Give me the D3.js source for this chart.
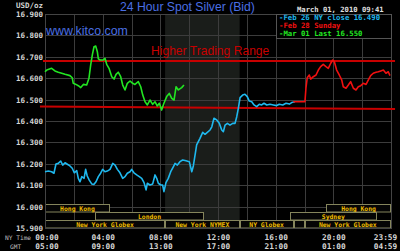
<!DOCTYPE html>
<html>
<head>
<meta charset="utf-8">
<script src="https://cdn.jsdelivr.net/npm/d3@7"></script>
<style>
body { margin: 0; background: #000; }
svg { display: block; }
</style>
</head>
<body>
<div id="container"></div>
<script>
var WIDTH = 400,
	HEIGHT = 251,
	LEFT = 45,
	RIGHT = 391,
	TOP = 14,
	BOTTOM = 228;

var MONO = '"DejaVu Sans Mono", monospace';
var SANS = '"Liberation Sans", Arial, sans-serif';

// price ticks and time ticks
var yTicks = [15.9, 16.0, 16.1, 16.2, 16.3, 16.4, 16.5, 16.6, 16.7, 16.8, 16.9];
var gridHours = [0, 2, 4, 6, 8, 10, 12, 14, 16, 18, 20, 22, 24];
var xTicks = [0, 4, 8, 12, 16, 20, 24];
var nyLabels = ['00:00', '04:00', '08:00', '12:00', '16:00', '20:00', '23:59'];
var gmtLabels = ['05:00', '09:00', '13:00', '17:00', '21:00', '01:00', '04:59'];

// series: [NY hour, price]
var feb26 = [[0.00,16.163],[0.23,16.166],[0.46,16.163],[0.62,16.156],[0.76,16.199],[0.92,16.202],[1.09,16.213],
	[1.23,16.194],[1.39,16.205],[1.55,16.198],[1.73,16.190],[1.89,16.179],[2.03,16.158],[2.20,16.168],[2.31,16.132],
	[2.43,16.116],[2.55,16.140],[2.71,16.132],[2.82,16.174],[2.93,16.143],[3.07,16.124],[3.24,16.106],[3.40,16.104],
	[3.54,16.116],[3.70,16.140],[3.86,16.156],[4.00,16.174],[4.16,16.163],[4.32,16.166],[4.51,16.174],[4.70,16.202],
	[4.86,16.194],[5.02,16.174],[5.20,16.158],[5.39,16.132],[5.55,16.140],[5.71,16.156],[5.90,16.163],[6.01,16.174],
	[6.17,16.158],[6.36,16.148],[6.54,16.140],[6.71,16.132],[6.87,16.112],[7.01,16.078],[7.10,16.109],[7.28,16.101],
	[7.47,16.106],[7.63,16.148],[7.75,16.132],[7.86,16.109],[8.03,16.101],[8.16,16.101],[8.25,16.070],[8.39,16.112],
	[8.55,16.132],[8.72,16.163],[8.90,16.186],[9.02,16.202],[9.18,16.194],[9.36,16.210],[9.55,16.218],[9.78,16.214],
	[10.01,16.210],[10.18,16.163],[10.29,16.190],[10.52,16.288],[10.75,16.319],[10.94,16.347],[11.10,16.338],
	[11.26,16.347],[11.45,16.358],[11.57,16.373],[11.72,16.413],[11.91,16.405],[12.09,16.389],[12.26,16.358],
	[12.37,16.350],[12.49,16.381],[12.65,16.389],[12.83,16.381],[13.02,16.389],[13.18,16.389],[13.30,16.420],
	[13.41,16.459],[13.53,16.509],[13.71,16.521],[13.87,16.525],[14.03,16.514],[14.17,16.493],[14.34,16.490],
	[14.50,16.475],[14.68,16.467],[14.86,16.478],[15.03,16.475],[15.19,16.483],[15.38,16.475],[15.61,16.478],
	[15.84,16.475],[16.07,16.472],[16.25,16.478],[16.49,16.475],[16.72,16.483],[16.95,16.479],[17.11,16.486],
	[17.34,16.490]];

var feb28 = [[17.22,16.490],[18.03,16.490],[18.10,16.553],[18.19,16.602],[18.33,16.615],[18.43,16.596],[18.61,16.607],
	[18.80,16.615],[18.96,16.638],[19.12,16.654],[19.30,16.665],[19.49,16.654],[19.65,16.646],[19.82,16.670],
	[19.96,16.685],[20.07,16.677],[20.23,16.638],[20.41,16.615],[20.58,16.592],[20.69,16.560],[20.88,16.553],
	[21.04,16.568],[21.20,16.584],[21.39,16.553],[21.57,16.545],[21.73,16.560],[21.90,16.565],[22.08,16.576],
	[22.27,16.571],[22.43,16.592],[22.59,16.612],[22.77,16.623],[22.96,16.628],[23.12,16.630],[23.29,16.634],
	[23.47,16.638],[23.65,16.623],[23.81,16.630],[23.93,16.612]];

var mar01 = [[0.00,16.630],[0.12,16.638],[0.46,16.646],[0.69,16.634],[0.92,16.628],[1.16,16.623],[1.39,16.618],
	[1.73,16.612],[1.89,16.602],[1.96,16.576],[2.15,16.571],[2.31,16.565],[2.48,16.556],[2.66,16.571],[2.89,16.568],
	[3.05,16.600],[3.17,16.662],[3.28,16.708],[3.40,16.747],[3.52,16.750],[3.63,16.724],[3.70,16.690],[3.82,16.685],
	[4.04,16.685],[4.16,16.693],[4.28,16.665],[4.44,16.646],[4.63,16.607],[4.79,16.596],[4.93,16.618],[5.08,16.628],
	[5.25,16.607],[5.39,16.568],[5.55,16.545],[5.71,16.576],[5.90,16.587],[6.08,16.576],[6.24,16.571],[6.47,16.584],
	[6.64,16.560],[6.78,16.521],[6.94,16.490],[7.10,16.475],[7.28,16.498],[7.47,16.478],[7.63,16.490],[7.79,16.470],
	[7.93,16.483],[8.09,16.451],[8.25,16.483],[8.44,16.514],[8.62,16.529],[8.79,16.506],[8.95,16.498],[9.09,16.560],
	[9.25,16.545],[9.48,16.556],[9.64,16.568]];

// trading range lines
var upperRange = [[-0.14, 16.680], [24.28, 16.680]];
var lowerRange = [[-0.35, 16.468], [24.28, 16.456]];

var legendLabels = ['-Feb 26 NY close 16.490', '-Feb 28 Sunday', '-Mar 01 Last 16.550'];
var seriesColors = ['#1fb8ee', '#f01010', '#22e622'];

// sessions: name, row, start hour, end hour
var sessions = [
	['Hong Kong', 0, 0, 4.5], ['Hong Kong', 0, 19.5, 24],
	['London', 1, 3.5, 11], ['Sydney', 1, 17, 23],
	['New York Globex', 2, 0, 8.33], ['New York NYMEX', 2, 8.33, 13.5], ['NY Globex', 2, 13.5, 17.25],
	['', 2, 17.25, 18], ['New York Globex', 2, 18, 24]
];
var nymexHours = [8.33, 13.5];

var xScale = d3.scaleLinear().domain([0, 24]).range([LEFT, RIGHT]);
var yScale = d3.scaleLinear().domain([15.9, 16.9]).range([BOTTOM, TOP]);

var translate = function (x, y) {
	return "translate(" + x + "," + y + ")";
};

function line() {
	return d3.line()
		.x(function (d) { return xScale(d[0]); })
		.y(function (d) { return yScale(d[1]); });
}

function drawChart() {
	var svg = d3.select('#container').append('svg')
		.attr('width', WIDTH)
		.attr('height', HEIGHT);

	svg.append('rect').attr('width', WIDTH).attr('height', HEIGHT).attr('fill', '#000');

	// NYMEX shading
	svg.append('rect')
		.attr('x', xScale(nymexHours[0])).attr('y', TOP)
		.attr('width', xScale(nymexHours[1]) - xScale(nymexHours[0]))
		.attr('height', BOTTOM - TOP)
		.attr('fill', '#1a1d1a');

	// grid
	svg.append('g').selectAll('line').data(yTicks).enter().append('line')
		.attr('x1', LEFT).attr('x2', RIGHT)
		.attr('y1', function (d) { return Math.round(yScale(d)) + 0.5; })
		.attr('y2', function (d) { return Math.round(yScale(d)) + 0.5; })
		.attr('stroke', '#3c3c3c');
	svg.append('g').selectAll('line').data(gridHours).enter().append('line')
		.attr('y1', TOP).attr('y2', BOTTOM)
		.attr('x1', function (d) { return Math.round(xScale(d)) + 0.5; })
		.attr('x2', function (d) { return Math.round(xScale(d)) + 0.5; })
		.attr('stroke', '#3c3c3c');

	// y labels
	var yAxis = svg.append('g')
		.attr('transform', translate(43, 0))
		.call(d3.axisLeft(yScale).tickValues(yTicks).tickFormat(d3.format('.3f')).tickSize(0).tickPadding(0));
	yAxis.select('.domain').remove();
	yAxis.selectAll('text')
		.attr('fill', '#d6d6d6')
		.style('font-family', MONO).style('font-size', '7.5px').style('font-weight', 'bold');

	// time labels
	[[nyLabels, 239.5], [gmtLabels, 248.5]].forEach(function (row) {
		var labels = row[0];
		var g = svg.append('g')
			.attr('transform', translate(0, row[1]))
			.call(d3.axisBottom(xScale).tickValues(xTicks)
				.tickFormat(function (d, i) { return labels[i]; }).tickSize(0).tickPadding(0));
		g.select('.domain').remove();
		g.selectAll('text')
			.attr('y', 0).attr('dy', 0)
			.attr('dx', function (d) { return d === 24 ? -6 : (d === 0 ? 1.5 : 0); })
			.attr('fill', '#d6d6d6')
			.style('font-family', MONO).style('font-size', '7.8px').style('font-weight', 'bold');
	});
	svg.append('text').attr('x', 5).attr('y', 239.5).text('NY Time')
		.attr('fill', '#bdbdbd').style('font-family', MONO).style('font-size', '6.2px');
	svg.append('text').attr('x', 10).attr('y', 248.5).text('GMT')
		.attr('fill', '#bdbdbd').style('font-family', MONO).style('font-size', '6.2px');

	// session bars
	var rowTop = [204, 212, 220];
	var sg = svg.append('g').selectAll('g').data(sessions).enter().append('g');
	sg.append('rect')
		.attr('x', function (d) { return Math.round(xScale(d[2])) + 0.5; })
		.attr('y', function (d) { return rowTop[d[1]] + 0.5; })
		.attr('width', function (d) { return Math.round(xScale(d[3])) - Math.round(xScale(d[2])) - 1; })
		.attr('height', 7.5)
		.attr('fill', '#050505')
		.attr('stroke', '#85855c');
	sg.append('text')
		.attr('x', function (d) { return (xScale(d[2]) + xScale(d[3])) / 2; })
		.attr('y', function (d) { return rowTop[d[1]] + 6.5; })
		.attr('text-anchor', 'middle')
		.attr('fill', '#f0bc00')
		.style('font-family', MONO).style('font-size', '6.4px').style('font-weight', 'bold')
		.text(function (d) { return d[0]; });

	// plot border
	svg.append('rect')
		.attr('x', LEFT + 0.5).attr('y', TOP + 0.5)
		.attr('width', RIGHT - LEFT).attr('height', BOTTOM - TOP)
		.attr('fill', 'none').attr('stroke', '#444');

	// trading range lines
	[upperRange, lowerRange].forEach(function (r) {
		svg.append('path').attr('d', line()(r))
			.attr('stroke', '#c80000').attr('stroke-width', 2).attr('fill', 'none');
	});

	// series
	[feb26, feb28, mar01].forEach(function (s, i) {
		svg.append('path').attr('d', line()(s))
			.attr('stroke', seriesColors[i]).attr('stroke-width', 1.6)
			.attr('fill', 'none').attr('stroke-linejoin', 'round');
	});

	// legend
	svg.append('rect')
		.attr('x', 276.5).attr('y', TOP + 0.5).attr('width', RIGHT - 276).attr('height', 24)
		.attr('fill', '#000').attr('stroke', '#555');
	svg.append('g').selectAll('text').data(legendLabels).enter().append('text')
		.attr('x', 279)
		.attr('y', function (d, i) { return 20 + i * 7.8; })
		.attr('fill', function (d, i) { return seriesColors[i]; })
		.style('font-family', MONO).style('font-size', '7.3px').style('font-weight', 'bold')
		.text(function (d) { return d; });

	// titles
	svg.append('text').attr('x', 187.5).attr('y', 10.5).attr('text-anchor', 'middle')
		.attr('fill', '#4a6fe3').style('font-family', SANS).style('font-size', '12.2px')
		.text('24 Hour Spot Silver (Bid)');
	svg.append('text').attr('x', 43).attr('y', 8).attr('text-anchor', 'end')
		.attr('fill', '#d6d6d6').style('font-family', MONO).style('font-size', '7.5px').style('font-weight', 'bold')
		.text('USD/oz');
	svg.append('text').attr('x', 297).attr('y', 11.5)
		.attr('fill', '#e0e0e0').style('font-family', MONO).style('font-size', '7.2px').style('font-weight', 'bold')
		.text('March 01, 2010 09:41');
	svg.append('text').attr('x', 46).attr('y', 34.5)
		.attr('fill', '#4a6fe3').style('font-family', SANS).style('font-size', '12.4px')
		.text('www.kitco.com');
	svg.append('text').attr('x', 151).attr('y', 55)
		.attr('fill', '#c80000').style('font-family', SANS).style('font-size', '12.1px')
		.text('Higher Trading Range');
}

window.onload = drawChart;
</script>
</body>
</html>
